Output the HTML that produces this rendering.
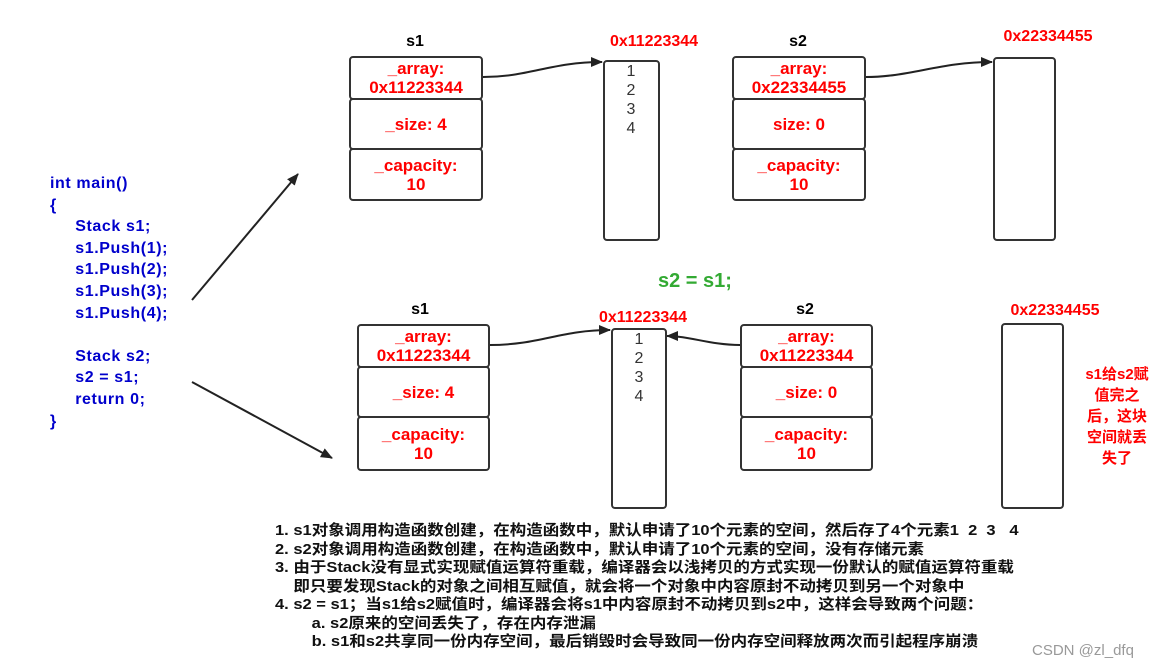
<!DOCTYPE html>
<html><head><meta charset="utf-8"><style>
body{margin:0;width:1176px;height:672px;background:#fff;position:relative;overflow:hidden;font-family:"Liberation Sans","Noto Sans CJK SC",sans-serif;}
.a{position:absolute}
.box{position:absolute;border:2px solid #333;border-radius:4px;box-sizing:border-box;display:flex;align-items:center;justify-content:center;text-align:center;color:#f00;font-weight:bold;font-size:17px;line-height:19px}
.lbl{position:absolute;font-weight:bold;font-size:16px;transform:translateX(-50%);white-space:nowrap}
.r{color:#f00}
.nums{position:absolute;font-size:16px;line-height:19px;color:#333;text-align:center;width:20px}
.code{position:absolute;left:50px;top:173px;color:#00c;font-weight:bold;font-size:16px;letter-spacing:0.6px;line-height:21.6px;white-space:pre}
.notes{position:absolute;left:275px;top:522px;font-size:15px;line-height:18.5px;color:#111;white-space:pre;font-weight:bold;transform:scaleX(1.1);transform-origin:0 0}
</style></head><body>
<svg class="a" style="left:0;top:0" width="1176" height="672">
<defs><marker id="m" markerWidth="12" markerHeight="10" refX="11" refY="5" orient="auto" markerUnits="userSpaceOnUse"><path d="M0,0 L12,5 L0,10 z" fill="#222"/></marker></defs>
<g stroke="#222" stroke-width="2" fill="none">
<path d="M192,300 L298,174" marker-end="url(#m)"/>
<path d="M192,382 L332,458" marker-end="url(#m)"/>
<path d="M483,77 C530,77 550,62 602,62" marker-end="url(#m)"/>
<path d="M866,77 C910,77 940,62 992,62" marker-end="url(#m)"/>
<path d="M490,345 C540,345 560,330 610,330" marker-end="url(#m)"/>
<path d="M740,345 C710,345 690,336 667,336" marker-end="url(#m)"/>
</g></svg>

<div class="lbl" style="left:415px;top:33px">s1</div>
<div class="lbl r" style="left:654px;top:33px">0x11223344</div>
<div class="lbl" style="left:798px;top:33px">s2</div>
<div class="lbl r" style="left:1048px;top:28px">0x22334455</div>

<div class="box" style="left:349px;top:56px;width:134px;height:44px">_array:<br>0x11223344</div>
<div class="box" style="left:349px;top:98px;width:134px;height:52px">_size: 4</div>
<div class="box" style="left:349px;top:148px;width:134px;height:53px">_capacity:<br>10</div>
<div class="box" style="left:603px;top:60px;width:57px;height:181px"></div>
<div class="nums" style="left:621px;top:62px">1<br>2<br>3<br>4</div>
<div class="box" style="left:732px;top:56px;width:134px;height:44px">_array:<br>0x22334455</div>
<div class="box" style="left:732px;top:98px;width:134px;height:52px">size: 0</div>
<div class="box" style="left:732px;top:148px;width:134px;height:53px">_capacity:<br>10</div>
<div class="box" style="left:993px;top:57px;width:63px;height:184px"></div>

<div class="a" style="left:658px;top:270px;color:#3a3;font-weight:bold;font-size:20px">s2 = s1;</div>

<div class="lbl" style="left:420px;top:301px">s1</div>
<div class="lbl r" style="left:643px;top:309px">0x11223344</div>
<div class="lbl" style="left:805px;top:301px">s2</div>
<div class="lbl r" style="left:1055px;top:302px">0x22334455</div>

<div class="box" style="left:357px;top:324px;width:133px;height:44px">_array:<br>0x11223344</div>
<div class="box" style="left:357px;top:366px;width:133px;height:52px">_size: 4</div>
<div class="box" style="left:357px;top:416px;width:133px;height:55px">_capacity:<br>10</div>
<div class="box" style="left:611px;top:328px;width:56px;height:181px"></div>
<div class="nums" style="left:629px;top:330px">1<br>2<br>3<br>4</div>
<div class="box" style="left:740px;top:324px;width:133px;height:44px">_array:<br>0x11223344</div>
<div class="box" style="left:740px;top:366px;width:133px;height:52px">_size: 0</div>
<div class="box" style="left:740px;top:416px;width:133px;height:55px">_capacity:<br>10</div>
<div class="box" style="left:1001px;top:323px;width:63px;height:186px"></div>
<div class="a r" style="left:1072px;top:364px;width:90px;font-weight:bold;font-size:15px;line-height:21px;text-align:center">s1给s2赋<br>值完之<br>后，这块<br>空间就丢<br>失了</div>

<div class="code">int main()
{
     Stack s1;
     s1.Push(1);
     s1.Push(2);
     s1.Push(3);
     s1.Push(4);

     Stack s2;
     s2 = s1;
     return 0;
}</div>

<div class="notes">1. s1对象调用构造函数创建，在构造函数中，默认申请了10个元素的空间，然后存了4个元素1  2  3   4
2. s2对象调用构造函数创建，在构造函数中，默认申请了10个元素的空间，没有存储元素
3. 由于Stack没有显式实现赋值运算符重载，编译器会以浅拷贝的方式实现一份默认的赋值运算符重载
    即只要发现Stack的对象之间相互赋值，就会将一个对象中内容原封不动拷贝到另一个对象中
4. s2 = s1；当s1给s2赋值时，编译器会将s1中内容原封不动拷贝到s2中，这样会导致两个问题：
        a. s2原来的空间丢失了，存在内存泄漏
        b. s1和s2共享同一份内存空间，最后销毁时会导致同一份内存空间释放两次而引起程序崩溃</div>
<div class="a" style="left:1032px;top:642px;color:#999;font-size:15px">CSDN @zl_dfq</div>
</body></html>
